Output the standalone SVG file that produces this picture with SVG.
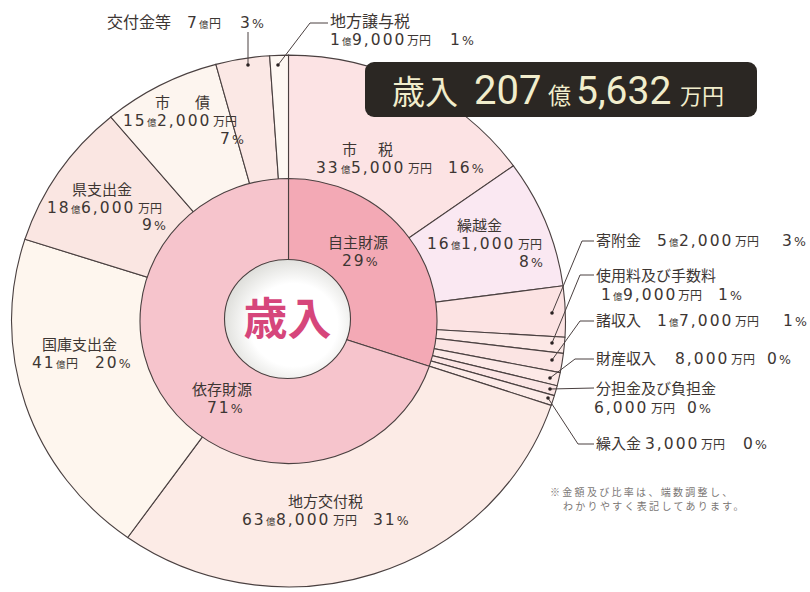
<svg xmlns="http://www.w3.org/2000/svg" width="810" height="592" viewBox="0 0 810 592">
<defs>
<radialGradient id="holeGrad" cx="55%" cy="55%" r="58%">
<stop offset="0.6" stop-color="#ffffff"/>
<stop offset="1" stop-color="#dcdcd8"/>
</radialGradient>
<style>
.sl{stroke:#4a4040;stroke-width:1.1;vector-effect:non-scaling-stroke}
.ld{fill:none;stroke:#4a4040;stroke-width:1}
.dot{fill:#2a2222}
text{font-family:"Noto Sans CJK JP","Noto Sans",sans-serif;fill:#3d3633;font-size:15px}
.n{font-family:"DejaVu Sans","Liberation Sans",sans-serif;font-size:15.5px;letter-spacing:2px}
.pc{font-family:"DejaVu Sans","Liberation Sans",sans-serif;font-size:12.5px;letter-spacing:0}
.ok{font-size:9.5px}
.mn{font-size:12px}
.top{font-size:16px}
.note{font-size:10px;fill:#7a7674;letter-spacing:2.3px}
.tt{fill:#f1edcc}
.td{font-family:Roboto,"Liberation Sans",sans-serif}
</style>
</defs>
<rect width="810" height="592" fill="#ffffff"/>

<g id="pie-outer">
<g id="n-shizei">
<path class="sl" transform="translate(288.5 321) scale(1 0.96)" fill="#fce3e4" d="M0 0 L0 -277 A277 277 0 0 1 224.95 -161.64 Z"/>
</g>
<g id="n-kurikoshi">
<path class="sl" transform="translate(288.5 321) scale(1 0.96)" fill="#fae8f2" d="M0 0 L224.95 -161.64 A277 277 0 0 1 274.57 -36.64 Z"/>
</g>
<g id="n-kifu">
<path class="sl" transform="translate(288.5 321) scale(1 0.96)" fill="#fce3e3" d="M0 0 L274.57 -36.64 A277 277 0 0 1 276.48 16.91 Z"/>
</g>
<g id="n-shiyoryo">
<path class="sl" transform="translate(288.5 321) scale(1 0.96)" fill="#fce8e6" d="M0 0 L276.48 16.91 A277 277 0 0 1 274.94 33.76 Z"/>
</g>
<g id="n-shoshunyu">
<path class="sl" transform="translate(288.5 321) scale(1 0.96)" fill="#fbe4e3" d="M0 0 L274.94 33.76 A277 277 0 0 1 271.73 53.80 Z"/>
</g>
<g id="n-zaisan">
<path class="sl" transform="translate(288.5 321) scale(1 0.96)" fill="#fce9e7" d="M0 0 L271.73 53.80 A277 277 0 0 1 268.65 67.48 Z"/>
</g>
<g id="n-buntan">
<path class="sl" transform="translate(288.5 321) scale(1 0.96)" fill="#fbe5e4" d="M0 0 L268.65 67.48 A277 277 0 0 1 265.87 77.75 Z"/>
</g>
<g id="n-kuriire">
<path class="sl" transform="translate(288.5 321) scale(1 0.96)" fill="#fcebe8" d="M0 0 L265.87 77.75 A277 277 0 0 1 262.68 87.89 Z"/>
</g>
<g id="n-kofuzei">
<path class="sl" transform="translate(288.5 321) scale(1 0.96)" fill="#fcebe6" d="M0 0 L262.68 87.89 A277 277 0 0 1 -160.85 225.51 Z"/>
</g>
<g id="n-kokko">
<path class="sl" transform="translate(288.5 321) scale(1 0.96)" fill="#fef6ee" d="M0 0 L-160.85 225.51 A277 277 0 0 1 -263.59 -85.14 Z"/>
</g>
<g id="n-ken">
<path class="sl" transform="translate(288.5 321) scale(1 0.96)" fill="#fae6e2" d="M0 0 L-263.59 -85.14 A277 277 0 0 1 -177.68 -212.51 Z"/>
</g>
<g id="n-shisai">
<path class="sl" transform="translate(288.5 321) scale(1 0.96)" fill="#fdf5ef" d="M0 0 L-177.68 -212.51 A277 277 0 0 1 -72.63 -267.31 Z"/>
</g>
<g id="n-kofukin">
<path class="sl" transform="translate(288.5 321) scale(1 0.96)" fill="#fbe8e5" d="M0 0 L-72.63 -267.31 A277 277 0 0 1 -18.84 -276.36 Z"/>
</g>
<g id="n-joyo">
<path class="sl" transform="translate(288.5 321) scale(1 0.96)" fill="#fef8f3" d="M0 0 L-18.84 -276.36 A277 277 0 0 1 0 -277 Z"/>
</g>
</g>

<g id="pie-inner">
<g id="n-jishu">
<path class="sl" transform="translate(288.5 321) scale(1 0.96)" fill="#f3a9b5" d="M0 0 L0 -148.5 A148.5 148.5 0 0 1 140.83 47.12 Z"/>
</g>
<g id="n-izon">
<path class="sl" transform="translate(288.5 321) scale(1 0.96)" fill="#f6c4cc" d="M0 0 L140.83 47.12 A148.5 148.5 0 1 1 0 -148.5 Z"/>
</g>
<g id="n-center">
<ellipse class="sl" cx="287.5" cy="319" rx="63" ry="59.5" fill="url(#holeGrad)"/>
<text x="287.5" y="335" text-anchor="middle" style="font-size:44px;font-weight:700;fill:#d6467b">歳入</text>
</g>
</g>

<g id="connectors">
<path class="ld" d="M248 65 V32"/>
<path class="ld" d="M278 65 L310 23 H328"/>
<path class="ld" d="M552 313 L582 241 H594"/>
<path class="ld" d="M552 343 L580 275 H594"/>
<path class="ld" d="M552 360 L580 321 H594"/>
<path class="ld" d="M550 378 L575 359 H594"/>
<path class="ld" d="M550 389 L594 388"/>
<path class="ld" d="M548 398 L578 444 H594"/>
<circle class="dot" cx="248" cy="65" r="1.8"/>
<circle class="dot" cx="278" cy="65" r="1.8"/>
<circle class="dot" cx="552" cy="313" r="1.8"/>
<circle class="dot" cx="552" cy="343" r="1.8"/>
<circle class="dot" cx="552" cy="360" r="1.8"/>
<circle class="dot" cx="550" cy="378" r="1.8"/>
<circle class="dot" cx="550" cy="389" r="1.8"/>
<circle class="dot" cx="548" cy="398" r="1.8"/>
</g>

<g id="labels">
<g id="l-shizei">
<text y="155"><tspan x="342">市</tspan><tspan x="378">税</tspan></text>
<text y="173"><tspan x="316" class="n">33</tspan><tspan x="341" class="ok">億</tspan><tspan x="351" class="n">5,000</tspan><tspan x="408" class="mn">万円</tspan><tspan x="448" class="n">16<tspan class="pc">%</tspan></tspan></text>
</g>
<g id="l-kurikoshi">
<text x="457" y="231">繰越金</text>
<text y="249"><tspan x="427" class="n">16</tspan><tspan x="451" class="ok">億</tspan><tspan x="461" class="n">1,000</tspan><tspan x="518" class="mn">万円</tspan></text>
<text x="519" y="267" class="n">8<tspan class="pc">%</tspan></text>
</g>
<g id="l-jishu">
<text x="328" y="248">自主財源</text>
<text x="342" y="266" class="n">29<tspan class="pc">%</tspan></text>
</g>
<g id="l-izon">
<text x="192" y="395">依存財源</text>
<text x="207" y="413" class="n">71<tspan class="pc">%</tspan></text>
</g>
<g id="l-kofuzei">
<text x="288" y="507">地方交付税</text>
<text y="525"><tspan x="242" class="n">63</tspan><tspan x="266" class="ok">億</tspan><tspan x="276" class="n">8,000</tspan><tspan x="333" class="mn">万円</tspan><tspan x="373" class="n">31<tspan class="pc">%</tspan></tspan></text>
</g>
<g id="l-kokko">
<text x="42" y="350">国庫支出金</text>
<text y="368"><tspan x="32" class="n">41</tspan><tspan x="56" class="ok">億</tspan><tspan x="66" class="mn">円</tspan><tspan x="95" class="n">20<tspan class="pc">%</tspan></tspan></text>
</g>
<g id="l-ken">
<text x="72" y="195">県支出金</text>
<text y="213"><tspan x="47" class="n">18</tspan><tspan x="71" class="ok">億</tspan><tspan x="81" class="n">6,000</tspan><tspan x="138" class="mn">万円</tspan></text>
<text x="142" y="230" class="n">9<tspan class="pc">%</tspan></text>
</g>
<g id="l-shisai">
<text y="108"><tspan x="155">市</tspan><tspan x="195">債</tspan></text>
<text y="126"><tspan x="123" class="n">15</tspan><tspan x="147" class="ok">億</tspan><tspan x="157" class="n">2,000</tspan><tspan x="213" class="mn">万円</tspan></text>
<text x="220" y="144" class="n">7<tspan class="pc">%</tspan></text>
</g>
<g id="l-kofukin">
<text y="28"><tspan x="107" class="top">交付金等</tspan><tspan x="187" class="n">7</tspan><tspan x="199" class="ok">億</tspan><tspan x="209" class="mn">円</tspan><tspan x="240" class="n">3<tspan class="pc">%</tspan></tspan></text>
</g>
<g id="l-joyo">
<text x="330" y="27" class="top">地方譲与税</text>
<text y="45"><tspan x="330" class="n">1</tspan><tspan x="342" class="ok">億</tspan><tspan x="352" class="n">9,000</tspan><tspan x="407" class="mn">万円</tspan><tspan x="450" class="n">1<tspan class="pc">%</tspan></tspan></text>
</g>
<g id="l-kifu">
<text y="246"><tspan x="596">寄附金</tspan><tspan x="657" class="n">5</tspan><tspan x="669" class="ok">億</tspan><tspan x="679" class="n">2,000</tspan><tspan x="735" class="mn">万円</tspan><tspan x="782" class="n">3<tspan class="pc">%</tspan></tspan></text>
</g>
<g id="l-shiyoryo">
<text x="596" y="281">使用料及び手数料</text>
<text y="300"><tspan x="601" class="n">1</tspan><tspan x="613" class="ok">億</tspan><tspan x="623" class="n">9,000</tspan><tspan x="678" class="mn">万円</tspan><tspan x="718" class="n">1<tspan class="pc">%</tspan></tspan></text>
</g>
<g id="l-shoshunyu">
<text y="326"><tspan x="596">諸収入</tspan><tspan x="657" class="n">1</tspan><tspan x="669" class="ok">億</tspan><tspan x="679" class="n">7,000</tspan><tspan x="735" class="mn">万円</tspan><tspan x="783" class="n">1<tspan class="pc">%</tspan></tspan></text>
</g>
<g id="l-zaisan">
<text y="364"><tspan x="596">財産収入</tspan><tspan x="675" class="n">8,000</tspan><tspan x="731" class="mn">万円</tspan><tspan x="767" class="n">0<tspan class="pc">%</tspan></tspan></text>
</g>
<g id="l-buntan">
<text x="596" y="394">分担金及び負担金</text>
<text y="413"><tspan x="594" class="n">6,000</tspan><tspan x="651" class="mn">万円</tspan><tspan x="687" class="n">0<tspan class="pc">%</tspan></tspan></text>
</g>
<g id="l-kuriire">
<text y="449"><tspan x="596">繰入金</tspan><tspan x="645" class="n">3,000</tspan><tspan x="701" class="mn">万円</tspan><tspan x="743" class="n">0<tspan class="pc">%</tspan></tspan></text>
</g>
</g>

<g id="n-title">
<rect x="365" y="62" width="392" height="55" rx="9" fill="#2b2723"/>
<text y="104" class="tt"><tspan x="392" style="font-size:33px" class="tt">歳入</tspan><tspan x="474" class="tt td" style="font-size:40px">207</tspan><tspan x="548" class="tt" style="font-size:23px">億</tspan><tspan x="576" class="tt td" style="font-size:39px">5,632</tspan><tspan x="680" class="tt" style="font-size:22px">万円</tspan></text>
</g>

<g id="note">
<text x="550" y="496" class="note">※金額及び比率は、端数調整し、</text>
<text x="563" y="510" class="note">わかりやすく表記してあります。</text>
</g>
</svg>
